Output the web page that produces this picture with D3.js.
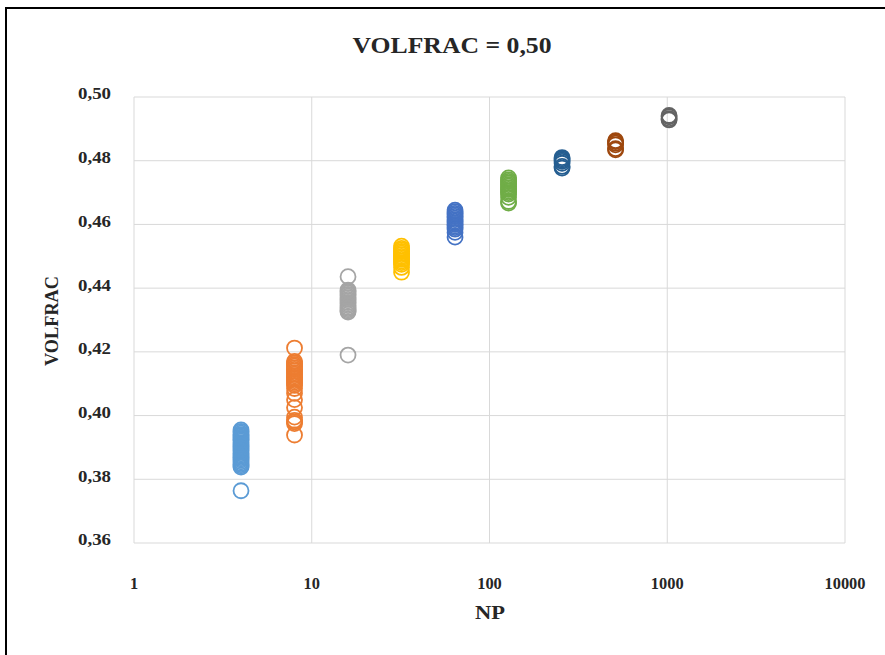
<!DOCTYPE html>
<html>
<head>
<meta charset="utf-8">
<script src="https://cdn.jsdelivr.net/npm/d3@7"></script>
<style>
  body { margin: 0; background: #fff; }
  svg text { font-family: "Liberation Serif", "DejaVu Serif", serif; font-weight: bold; fill: #262626; }
</style>
</head>
<body>
<svg id="chart" width="885" height="655"></svg>
<script>
// NP values per series
var npValues = [4, 8, 16, 32, 64, 128, 256, 512, 1024];
var seriesColors = ["#5B9BD5", "#ED7D31", "#A5A5A5", "#FFC000", "#4472C4", "#70AD47", "#255E91", "#9E480E", "#636363"];

// VOLFRAC values
var vf4 = [0.3764, 0.3838, 0.3842, 0.3846, 0.385, 0.3855, 0.386, 0.3864, 0.3868, 0.3872, 0.3876, 0.388, 0.3885, 0.389, 0.3894, 0.3898, 0.3902, 0.3906, 0.391, 0.3915, 0.392, 0.3924, 0.3928, 0.3932, 0.3936, 0.394, 0.3945, 0.395, 0.3955];
var vf8 = [0.3939, 0.3975, 0.398, 0.3985, 0.3995, 0.4025, 0.405, 0.407, 0.4085, 0.4095, 0.41, 0.4105, 0.411, 0.4115, 0.412, 0.4125, 0.413, 0.4135, 0.414, 0.4145, 0.415, 0.4155, 0.416, 0.4165, 0.417, 0.4212];
var vf16 = [0.419, 0.4325, 0.4328, 0.4332, 0.4336, 0.434, 0.4345, 0.435, 0.4355, 0.436, 0.4365, 0.437, 0.4375, 0.438, 0.4385, 0.439, 0.4394, 0.4436];
var vf32 = [0.445, 0.4465, 0.4475, 0.448, 0.4485, 0.449, 0.4495, 0.45, 0.4505, 0.451, 0.4515, 0.452, 0.4525, 0.4532];
var vf64 = [0.456, 0.4575, 0.4585, 0.459, 0.4595, 0.46, 0.4605, 0.461, 0.4615, 0.462, 0.4625, 0.463, 0.4635, 0.464, 0.4645];
var vf128 = [0.4667, 0.4672, 0.4685, 0.4695, 0.47, 0.4705, 0.471, 0.4715, 0.472, 0.4725, 0.473, 0.4735, 0.474, 0.4746];
var vf256 = [0.4777, 0.4782, 0.4792, 0.4798, 0.4802, 0.4806, 0.481];
var vf512 = [0.4834, 0.4838, 0.485, 0.4855, 0.486, 0.4863];
var vf1024 = [0.4928, 0.4932, 0.4938, 0.4942];
var allSeries = [vf4, vf8, vf16, vf32, vf64, vf128, vf256, vf512, vf1024];

var xTicks = [1, 10, 100, 1000, 10000];
var yTicks = [0.36, 0.38, 0.40, 0.42, 0.44, 0.46, 0.48, 0.50];

var svg = d3.select("#chart");
var plot = { left: 134, right: 845, top: 97, bottom: 543 };

// frame
svg.append("rect")
    .attr("x", 6).attr("y", 8)
    .attr("width", 890).attr("height", 700)
    .attr("fill", "none")
    .attr("stroke", "#000")
    .attr("stroke-width", 2);

var xScale = d3.scaleLog().domain([1, 10000]).range([plot.left, plot.right]);
var yScale = d3.scaleLinear().domain([0.36, 0.50]).range([plot.bottom, plot.top]);

// grid
svg.append("g").selectAll("line").data(yTicks).enter()
    .append("line")
    .attr("x1", plot.left).attr("x2", plot.right)
    .attr("y1", function (d) { return yScale(d); })
    .attr("y2", function (d) { return yScale(d); })
    .attr("stroke", "#d9d9d9").attr("stroke-width", 1);
svg.append("g").selectAll("line").data(xTicks).enter()
    .append("line")
    .attr("y1", plot.top).attr("y2", plot.bottom)
    .attr("x1", function (d) { return xScale(d); })
    .attr("x2", function (d) { return xScale(d); })
    .attr("stroke", "#d9d9d9").attr("stroke-width", 1);

// tick text
var fmt = function (d) { return d.toFixed(2).replace(".", ","); };
svg.append("g").selectAll("text").data(yTicks).enter()
    .append("text")
    .attr("x", 111)
    .attr("y", function (d) { return yScale(d); })
    .attr("dy", "0.15em")
    .attr("text-anchor", "end")
    .attr("font-size", 16)
    .attr("textLength", 33)
    .attr("lengthAdjust", "spacingAndGlyphs")
    .text(fmt);
svg.append("g").selectAll("text").data(xTicks).enter()
    .append("text")
    .attr("x", function (d) { return xScale(d); })
    .attr("y", 589)
    .attr("text-anchor", "middle")
    .attr("font-size", 16)
    .attr("textLength", function (d) { return String(d).length * 8.2; })
    .attr("lengthAdjust", "spacingAndGlyphs")
    .text(function (d) { return d; });

// points
allSeries.forEach(function (vals, i) {
    svg.append("g").selectAll("circle").data(vals).enter()
        .append("circle")
        .attr("cx", xScale(npValues[i]))
        .attr("cy", function (d) { return yScale(d); })
        .attr("r", 7.5)
        .attr("fill", "none")
        .attr("stroke", seriesColors[i])
        .attr("stroke-width", 1.8);
});

// titles
svg.append("text")
    .attr("x", 452).attr("y", 53)
    .attr("text-anchor", "middle")
    .attr("font-size", 24)
    .attr("textLength", 199)
    .attr("lengthAdjust", "spacingAndGlyphs")
    .text("VOLFRAC = 0,50");
svg.append("text")
    .attr("x", 490).attr("y", 619)
    .attr("text-anchor", "middle")
    .attr("font-size", 18)
    .attr("textLength", 30)
    .attr("lengthAdjust", "spacingAndGlyphs")
    .text("NP");
svg.append("text")
    .attr("transform", "translate(58,321) rotate(-90)")
    .attr("text-anchor", "middle")
    .attr("font-size", 19)
    .attr("textLength", 90)
    .attr("lengthAdjust", "spacingAndGlyphs")
    .text("VOLFRAC");
</script>
</body>
</html>
